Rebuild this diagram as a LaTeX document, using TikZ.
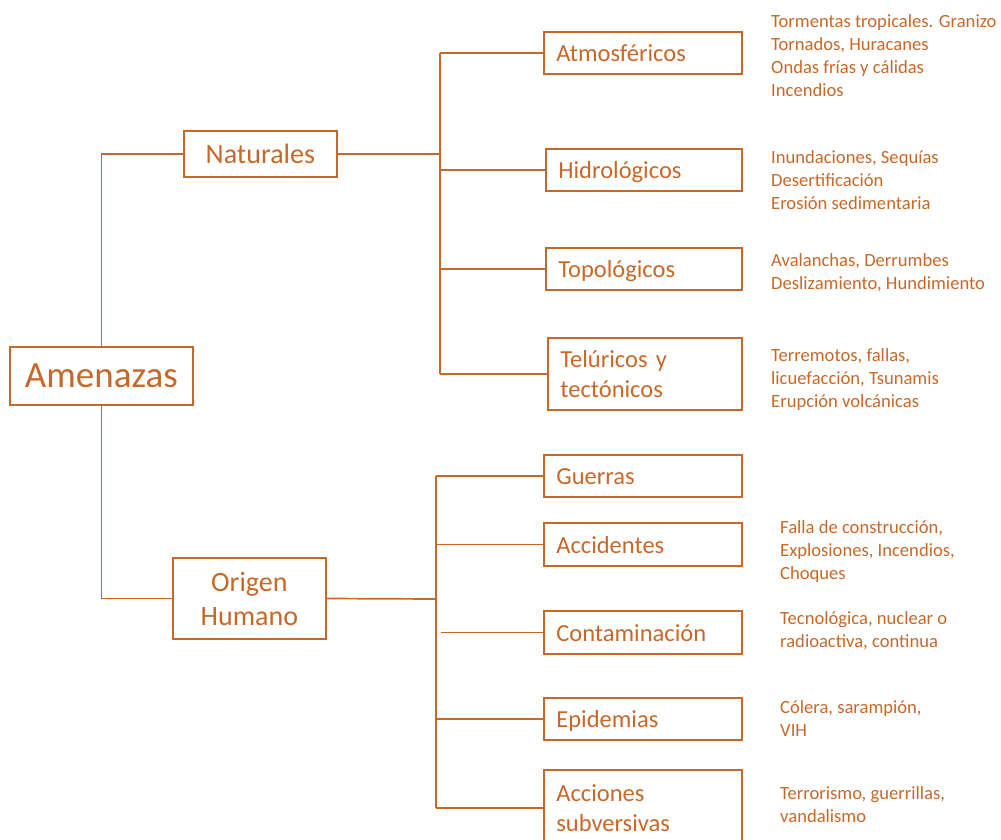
\documentclass[tikz,border=0pt]{standalone}
\usepackage{fontspec}
\setmainfont{Carlito}
\definecolor{ora}{RGB}{200,104,40}
\tikzset{
  bx/.style={draw=ora, line width=1.7pt, text=ora, inner xsep=12.5pt, inner ysep=0pt,
    anchor=west, align=left, font=\fontsize{24.5}{30}\selectfont},
  onebx/.style={bx, text height=20pt, text depth=2.5pt},
  bigbx/.style={draw=ora, line width=1.7pt, text=ora, inner sep=0pt, anchor=west, align=center},
  lnk/.style={draw=ora, line width=1.7pt},
  note/.style={text=ora, anchor=base west, align=left, inner sep=0pt, font=\fontsize{18.6}{23}\selectfont}
}
\begin{document}
\begin{tikzpicture}[x=1pt,y=-1pt]
\useasboundingbox (0,0) rectangle (1001,840);
\clip (0,0) rectangle (1001,840);
% main boxes
\node[bigbx, minimum width=183pt, minimum height=58pt, font=\fontsize{37}{44}\selectfont] (amen) at (9,376) {Amenazas};
\node[bigbx, minimum width=153pt, minimum height=46pt, font=\fontsize{28}{34}\selectfont] (nat) at (183,154) {Naturales};
\node[bigbx, minimum width=153pt, minimum height=81pt, font=\fontsize{28}{34}\selectfont] (ori) at (172,598.5) {Origen\\Humano};
% natural boxes
\node[onebx, minimum width=198pt, text width=173pt, minimum height=42pt] (atm) at (543,53) {Atmosféricos};
\node[onebx, minimum width=196pt, text width=171pt, minimum height=42pt] (hid) at (545,170) {Hidrológicos};
\node[onebx, minimum width=196pt, text width=171pt, minimum height=42pt] (topo) at (545,269) {Topológicos};
\node[bx, minimum width=194pt, text width=169pt, minimum height=72pt] (tel) at (547,374) {Telúricos y\\tectónicos};
% human boxes
\node[onebx, minimum width=198pt, text width=173pt, minimum height=42pt] (gue) at (543,476) {Guerras};
\node[onebx, minimum width=198pt, text width=173pt, minimum height=43pt] (acc) at (543,544.5) {Accidentes};
\node[onebx, minimum width=198pt, text width=173pt, minimum height=43pt] (con) at (543,632.5) {Contaminación};
\node[onebx, minimum width=198pt, text width=173pt, minimum height=42pt] (epi) at (543,719) {Epidemias};
\node[bx, minimum width=198pt, text width=173pt, minimum height=76pt] (acs) at (543,808) {Acciones\\subversivas};
% connectors
\draw[lnk] (amen.north) -- (amen.north |- nat.west) -- (nat.west);
\draw[lnk] (amen.south) -- (amen.south |- ori.west) -- (ori.west);
\coordinate (nb) at (440,154);
\draw[lnk] (nat.east) -- (nb);
\draw[lnk] (nb |- atm.west) -- (nb |- tel.west);
\draw[lnk] (nb |- atm.west) -- (atm.west);
\draw[lnk] (nb |- hid.west) -- (hid.west);
\draw[lnk] (nb |- topo.west) -- (topo.west);
\draw[lnk] (nb |- tel.west) -- (tel.west);
\coordinate (hb) at (436,599);
\coordinate (hc) at (441,632.5);
\draw[lnk] (ori.east) -- (hb);
\draw[lnk] (hb |- gue.west) -- (hb |- acs.west);
\draw[lnk] (hb |- gue.west) -- (gue.west);
\draw[lnk] (hb |- acc.west) -- (acc.west);
\draw[lnk] (hc) -- (con.west);
\draw[lnk] (hb |- epi.west) -- (epi.west);
\draw[lnk] (hb |- acs.west) -- (acs.west);
% notes (anchored at the baseline of the last line)
\node[note] (n1) at (771,97) {Tormentas tropicales. Granizo\\Tornados, Huracanes\\Ondas frías y cálidas\\Incendios};
\node[note] (n2) at (771,209) {Inundaciones, Sequías\\Desertificación\\Erosión sedimentaria};
\node[note] (n3) at (771,289) {Avalanchas, Derrumbes\\Deslizamiento, Hundimiento};
\node[note] (n4) at (771,407) {Terremotos, fallas,\\licuefacción, Tsunamis\\Erupción volcánicas};
\node[note] (n5) at (780,579) {Falla de construcción,\\Explosiones, Incendios,\\Choques};
\node[note] (n6) at (780,647) {Tecnológica, nuclear o\\radioactiva, continua};
\node[note] (n7) at (780,736) {Cólera, sarampión,\\VIH};
\node[note] (n8) at (780,822) {Terrorismo, guerrillas,\\vandalismo};
\end{tikzpicture}
\end{document}
